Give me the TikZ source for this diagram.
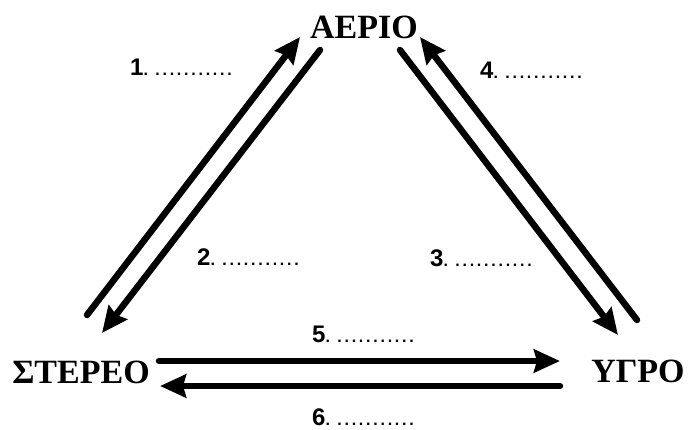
\documentclass[tikz,border=0pt]{standalone}
\usepackage{fontspec}
\setmainfont{Liberation Serif}
\newfontfamily\labfont{Liberation Sans}
\usetikzlibrary{arrows.meta}
\newcommand\dotrow{\makebox[7.2pt][c]{.}\makebox[7.2pt][c]{.}\makebox[7.2pt][c]{.}\makebox[7.2pt][c]{.}\makebox[7.2pt][c]{.}\makebox[7.2pt][c]{.}\makebox[7.2pt][c]{.}\makebox[7.2pt][c]{.}\makebox[7.2pt][c]{.}\makebox[7.2pt][c]{.}\makebox[7.2pt][c]{.}}
\newcommand\lbltext[1]{{\fontsize{24}{24}\selectfont\bfseries #1}{\fontsize{16}{16}\selectfont\bfseries .\hspace{6pt}\dotrow}}
\begin{document}
\begin{tikzpicture}[x=1pt,y=-1pt,
  state/.style={inner sep=0pt,font=\fontsize{34}{34}\selectfont\bfseries},
  numlabel/.style={inner sep=0pt,anchor=west,font=\labfont},
  bigarrow/.style={line width=6.5pt,line cap=round,-{Stealth[length=26pt,width=23pt,inset=3pt]}}]
\useasboundingbox (0,0) rectangle (689,429);
\fill[white] (0,0) rectangle (689,429);
% states
\node[state] (aerio) at (364,27) {ΑΕΡΙΟ};
\node[state] (stereo) at (81,372) {ΣΤΕΡΕΟ};
\node[state] (ygro) at (638,371) {ΥΓΡΟ};
% arrow end points
\coordinate (a1s) at (87,315);  \coordinate (a1e) at (300,37);
\coordinate (a2s) at (320,50);  \coordinate (a2e) at (102,333);
\coordinate (a3s) at (400,50);  \coordinate (a3e) at (618,335);
\coordinate (a4s) at (637,320); \coordinate (a4e) at (420,37);
\coordinate (a5s) at (159,361); \coordinate (a5e) at (560,361);
\coordinate (a6s) at (560,386); \coordinate (a6e) at (160,386);
\draw[bigarrow] (a1s) -- (a1e);
\draw[bigarrow] (a2s) -- (a2e);
\draw[bigarrow] (a3s) -- (a3e);
\draw[bigarrow] (a4s) -- (a4e);
\draw[bigarrow] (a5s) -- (a5e);
\draw[bigarrow] (a6s) -- (a6e);
% labels
\node[numlabel] (l1) at (130,67) {\lbltext{1}};
\node[numlabel] (l4) at (480,70) {\lbltext{4}};
\node[numlabel] (l2) at (197,257) {\lbltext{2}};
\node[numlabel] (l3) at (430,258) {\lbltext{3}};
\node[numlabel] (l5) at (312,334) {\lbltext{5}};
\node[numlabel] (l6) at (312,417) {\lbltext{6}};
\end{tikzpicture}
\end{document}
